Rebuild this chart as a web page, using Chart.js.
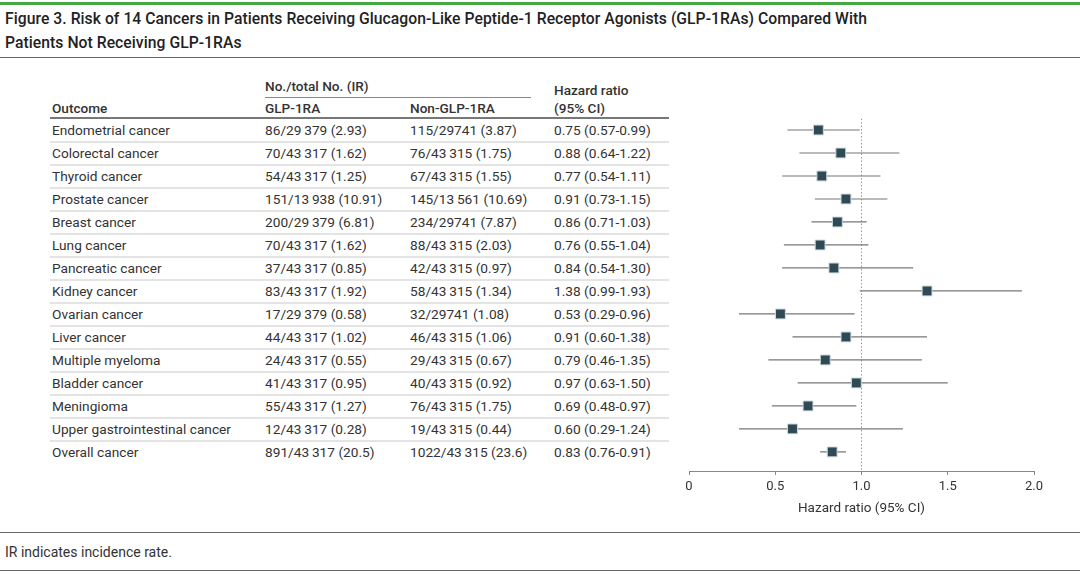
<!DOCTYPE html>
<html>
<head>
<meta charset="utf-8">
<script src="https://cdn.jsdelivr.net/npm/chart.js@4.4.1/dist/chart.umd.min.js"></script>
<style>
  html, body { margin: 0; padding: 0; background: #fff; }
  #page { position: relative; width: 1080px; height: 575px; overflow: hidden;
          font-family: Roboto, "Noto Sans", sans-serif; color: #2b2b2b; }
  .abs { position: absolute; white-space: nowrap; }
  .hline { position: absolute; height: 0; }
  .title { font-size: 15.7px; font-weight: 500; color: #222; line-height: 20px; letter-spacing: 0.05px; }
  .hdr { font-size: 13.6px; font-weight: 500; color: #333; line-height: 18px; }
  .cell { font-size: 13.7px; color: #333; line-height: 18px; }
  #plot { position: absolute; left: 660px; top: 60px; }
</style>
</head>
<body>
<div id="page">
  <div class="hline" style="left:0;top:2px;width:1080px;border-top:3px solid #45a845"></div>
  <div class="abs title" style="left:5px;top:9px">Figure 3. Risk of 14 Cancers in Patients Receiving Glucagon-Like Peptide-1 Receptor Agonists (GLP-1RAs) Compared With</div>
  <div class="abs title" style="left:5px;top:33px">Patients Not Receiving GLP-1RAs</div>
  <div class="hline" style="left:0;top:57px;width:1080px;border-top:1.5px solid #666"></div>

  <div class="abs hdr" style="left:265px;top:77px">No./total No. (IR)</div>
  <div class="hline" style="left:265px;top:97px;width:266px;border-top:1px solid #888"></div>
  <div class="abs hdr" style="left:52px;top:99px">Outcome</div>
  <div class="abs hdr" style="left:265px;top:99px">GLP-1RA</div>
  <div class="abs hdr" style="left:410px;top:99px">Non-GLP-1RA</div>
  <div class="abs hdr" style="left:554px;top:81px">Hazard ratio</div>
  <div class="abs hdr" style="left:554px;top:99px">(95% CI)</div>
  <div class="hline" style="left:50px;top:117px;width:619px;border-top:2px solid #777"></div>
  <div id="rows"></div>

  <canvas id="plot" width="420" height="470"></canvas>

  <div class="hline" style="left:0;top:532px;width:1080px;border-top:1.5px solid #666"></div>
  <div class="abs cell" style="left:5px;top:543px;font-size:14px">IR indicates incidence rate.</div>
  <div class="hline" style="left:0;top:570px;width:1080px;border-top:1.5px solid #666"></div>
</div>
<script>
// table + forest plot values
var outcomes = ['Endometrial cancer', 'Colorectal cancer', 'Thyroid cancer', 'Prostate cancer',
  'Breast cancer', 'Lung cancer', 'Pancreatic cancer', 'Kidney cancer', 'Ovarian cancer',
  'Liver cancer', 'Multiple myeloma', 'Bladder cancer', 'Meningioma',
  'Upper gastrointestinal cancer', 'Overall cancer'];
var glp_labels = ['86/29\u2009379 (2.93)', '70/43\u2009317 (1.62)', '54/43\u2009317 (1.25)',
  '151/13\u2009938 (10.91)', '200/29\u2009379 (6.81)', '70/43\u2009317 (1.62)', '37/43\u2009317 (0.85)',
  '83/43\u2009317 (1.92)', '17/29\u2009379 (0.58)', '44/43\u2009317 (1.02)', '24/43\u2009317 (0.55)',
  '41/43\u2009317 (0.95)', '55/43\u2009317 (1.27)', '12/43\u2009317 (0.28)', '891/43\u2009317 (20.5)'];
var non_glp_labels = ['115/29741 (3.87)', '76/43\u2009315 (1.75)', '67/43\u2009315 (1.55)',
  '145/13\u2009561 (10.69)', '234/29741 (7.87)', '88/43\u2009315 (2.03)', '42/43\u2009315 (0.97)',
  '58/43\u2009315 (1.34)', '32/29741 (1.08)', '46/43\u2009315 (1.06)', '29/43\u2009315 (0.67)',
  '40/43\u2009315 (0.92)', '76/43\u2009315 (1.75)', '19/43\u2009315 (0.44)', '1022/43\u2009315 (23.6)'];
var hr = [0.75, 0.88, 0.77, 0.91, 0.86, 0.76, 0.84, 1.38, 0.53, 0.91, 0.79, 0.97, 0.69, 0.60, 0.83];
var ci_low = [0.57, 0.64, 0.54, 0.73, 0.71, 0.55, 0.54, 0.99, 0.29, 0.60, 0.46, 0.63, 0.48, 0.29, 0.76];
var ci_high = [0.99, 1.22, 1.11, 1.15, 1.03, 1.04, 1.30, 1.93, 0.96, 1.38, 1.35, 1.50, 0.97, 1.24, 0.91];
var x_ticks = [0, 0.5, 1.0, 1.5, 2.0];

var row_top = 130, row_step = 23;   // page y of first row centre, row pitch
var y_min = -0.5, y_max = 14.83;

// table rows (html text)
var rows = document.getElementById('rows');
function fnc_cell(text, left, top){
    var d = document.createElement('div');
    d.className = 'abs cell';
    d.style.left = left + 'px';
    d.style.top = top + 'px';
    d.textContent = text;
    rows.appendChild(d);
}
for(var i in outcomes){
    var cy = row_top + row_step * i;
    fnc_cell(outcomes[i], 52, cy - 9);
    fnc_cell(glp_labels[i], 265, cy - 9);
    fnc_cell(non_glp_labels[i], 410, cy - 9);
    fnc_cell(hr[i].toFixed(2) + ' (' + ci_low[i].toFixed(2) + '-' + ci_high[i].toFixed(2) + ')', 554, cy - 9);
    if(i < outcomes.length - 1){
        var ln = document.createElement('div');
        ln.className = 'hline';
        ln.style.cssText = 'left:50px;width:619px;border-top:2px solid #e4e4e4;top:' + (cy + 10.5) + 'px';
        rows.appendChild(ln);
    }
}

// forest plot
var datasets = [{
    type: 'scatter',
    data: hr.map(function(v, i){ return {x: v, y: i}; }),
    pointStyle: 'rect',
    pointRadius: 7,
    backgroundColor: '#2e4a55',
    borderColor: '#cfd9dd',
    borderWidth: 1
}];
for(var j = 0; j < hr.length; j++){
    datasets.push({
        type: 'line',
        data: [{x: ci_low[j], y: j}, {x: ci_high[j], y: j}],
        borderColor: '#777',
        borderWidth: 1.2,
        pointRadius: 0
    });
}
datasets.push({
    type: 'line',
    data: [{x: 1, y: y_min}, {x: 1, y: y_max}],
    borderColor: '#999',
    borderWidth: 1,
    borderDash: [1.5, 2],
    pointRadius: 0
});

Chart.defaults.font.family = 'Roboto, "Noto Sans", sans-serif';
Chart.defaults.color = '#333';

new Chart(document.getElementById('plot'), {
    type: 'scatter',
    data: { datasets: datasets },
    options: {
        responsive: false,
        animation: false,
        layout: { padding: { left: 29, right: 46, top: 58.5, bottom: 9 } },
        plugins: { legend: { display: false }, tooltip: { enabled: false } },
        scales: {
            x: {
                type: 'linear', min: 0, max: 2,
                afterBuildTicks: function(s){ s.ticks = x_ticks.map(function(v){ return {value: v}; }); },
                afterFit: function(s){ s.height = 50; },
                ticks: {
                    font: { size: 13 }, color: '#333', padding: 4, maxRotation: 0,
                    callback: function(v){ return v === 0 ? '0' : v.toFixed(1); }
                },
                grid: { drawOnChartArea: false, drawTicks: true, tickLength: 4, color: '#888' },
                border: { color: '#888', width: 1 },
                title: { display: true, text: 'Hazard ratio (95% CI)', font: { size: 13.5 }, color: '#333', padding: { top: 0, bottom: 4 } }
            },
            y: { type: 'linear', reverse: true, min: y_min, max: y_max, display: false }
        }
    }
});
</script>
</body>
</html>
